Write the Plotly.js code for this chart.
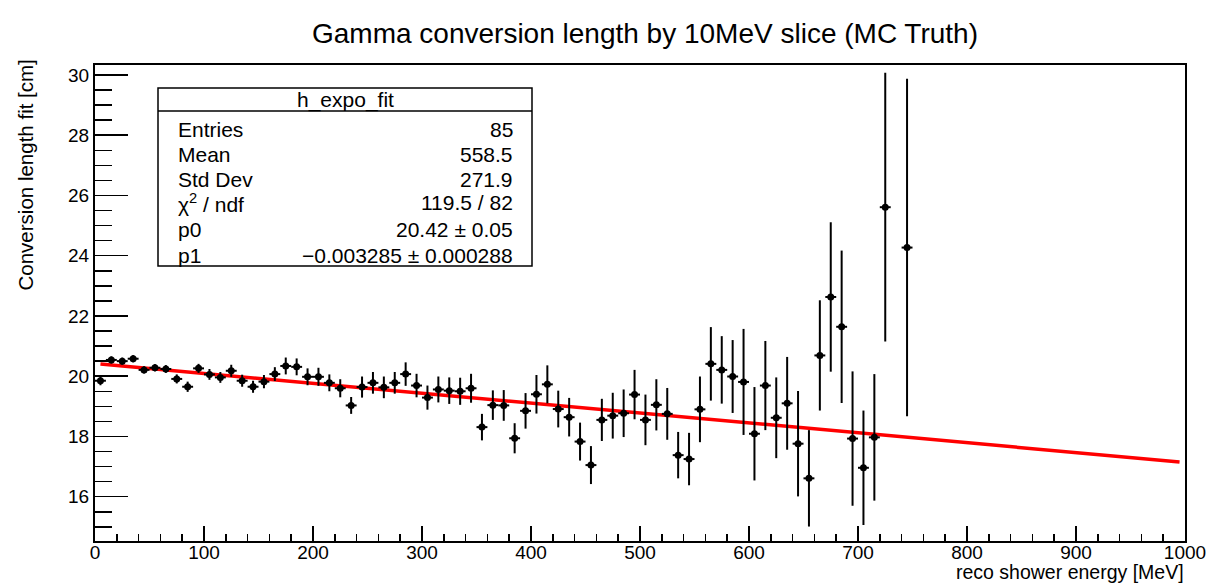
<!DOCTYPE html>
<html>
<head>
<meta charset="utf-8">
<script src="https://cdn.plot.ly/plotly-3.0.1.min.js"></script>
<style>
html,body{margin:0;padding:0;background:#fff;}
#chart{width:1209px;height:583px;}
</style>
</head>
<body>
<div id="chart"></div>
<script>
// reco shower energy bin centres [MeV]
const energy = [5,15,25,35,45,55,65,75,85,95,105,115,125,135,145,155,165,175,185,195,205,215,225,235,245,255,265,275,285,295,305,315,325,335,345,355,365,375,385,395,405,415,425,435,445,455,465,475,485,495,505,515,525,535,545,555,565,575,585,595,605,615,625,635,645,655,665,675,685,695,705,715,725,745];
// conversion length fit [cm]
const convLength = [19.85,20.54,20.50,20.58,20.21,20.28,20.24,19.91,19.65,20.26,20.06,19.96,20.18,19.85,19.65,19.82,20.07,20.34,20.31,19.98,19.98,19.78,19.60,19.03,19.64,19.78,19.63,19.78,20.07,19.69,19.29,19.56,19.52,19.50,19.60,18.31,19.04,19.03,17.94,18.85,19.40,19.73,18.91,18.64,17.83,17.05,18.55,18.69,18.77,19.39,18.55,19.05,18.75,17.38,17.25,18.90,20.41,20.21,19.99,19.81,18.09,19.69,18.62,19.10,17.76,16.61,20.69,22.63,21.64,17.93,16.96,17.97,25.61,24.27];
// uncertainty [cm]
const convError = [0.15,0.12,0.12,0.12,0.12,0.12,0.13,0.15,0.17,0.15,0.18,0.18,0.20,0.20,0.20,0.22,0.23,0.28,0.28,0.28,0.30,0.28,0.30,0.28,0.35,0.36,0.36,0.36,0.39,0.39,0.40,0.43,0.44,0.45,0.48,0.44,0.49,0.51,0.50,0.59,0.64,0.63,0.61,0.64,0.63,0.63,0.70,0.76,0.79,0.82,0.84,0.85,0.86,0.77,0.87,1.09,1.22,1.12,1.21,1.76,1.55,1.48,1.34,1.54,1.75,1.60,1.83,2.48,2.53,2.23,1.90,2.10,4.46,5.60];
const binHalfWidth = 5;

// fit parameters (pol1)
const p0 = 20.42;
const p1 = -0.003285;
const fitRange = [5, 995];

// stats box
const statLabels = ["Entries","Mean","Std Dev","\u03c7<sup>2</sup> / ndf","p0","p1"];
const statValues = ["85","558.5","271.9","119.5 / 82","20.42 \u00b1 0.05","\u22120.003285 \u00b1 0.000288"];
const statTitle = "h_expo_fit";

const FONT = "Liberation Sans, Arial, Helvetica, sans-serif";

const dataTrace = {
  x: energy, y: convLength, type: "scatter", mode: "markers",
  marker: {color: "#000", size: 7, symbol: "circle"},
  error_y: {type: "data", array: convError, visible: true, color: "#000", thickness: 2, width: 0},
  error_x: {type: "constant", value: binHalfWidth, visible: true, color: "#000", thickness: 2, width: 0},
  hoverinfo: "x+y", showlegend: false
};
const fitTrace = {
  x: fitRange, y: fitRange.map(e => p0 + p1 * e),
  type: "scatter", mode: "lines",
  line: {color: "#ff0000", width: 3.5}, showlegend: false
};

// plot geometry in px (for paper conversion of box)
const L = 95, R = 1185, T = 65, B = 541;
const px = v => (v - L) / (R - L);
const py = v => (B - v) / (B - T);

const rowY = [129, 154, 179, 203, 229, 255];
const SF = 21;
const annotations = [];
annotations.push({xref:"paper", yref:"paper", x:(px(158)+px(532))/2, y:py(100), text:statTitle, showarrow:false, xanchor:"center", yanchor:"middle", font:{family:FONT, size:SF, color:"#000"}});
statLabels.forEach((t,i) => {
  annotations.push({xref:"paper", yref:"paper", x:px(176), y:py(rowY[i]), text:t, showarrow:false, xanchor:"left", yanchor:"middle", font:{family:FONT, size:SF, color:"#000"}});
  annotations.push({xref:"paper", yref:"paper", x:px(515), y:py(rowY[i]), text:statValues[i], showarrow:false, xanchor:"right", yanchor:"middle", font:{family:FONT, size:SF, color:"#000"}});
});
annotations.push({xref:"paper", yref:"paper", x:1, y:py(572), text:"reco shower energy [MeV]", showarrow:false, xanchor:"right", yanchor:"middle", borderpad:0, font:{family:FONT, size:19.5, color:"#000"}});
annotations.push({xref:"paper", yref:"paper", x:px(25), y:py(58), text:"Conversion length fit [cm]", showarrow:false, textangle:-90, xanchor:"center", yanchor:"top", font:{family:FONT, size:20.5, color:"#000"}});

const shapes = [
  {type:"rect", xref:"paper", yref:"paper", x0:px(158), x1:px(532), y0:py(266), y1:py(88), line:{color:"#000", width:1.5}, fillcolor:"rgba(255,255,255,1)", layer:"above"},
  {type:"line", xref:"paper", yref:"paper", x0:px(158), x1:px(532), y0:py(111), y1:py(111), line:{color:"#000", width:1.5}, layer:"above"}
];

const layout = {
  width: 1209, height: 583,
  margin: {l: L, r: 1209 - R, t: T, b: 583 - B, pad: 0},
  paper_bgcolor: "#fff", plot_bgcolor: "#fff",
  font: {family: FONT, color: "#000"},
  title: {text: "Gamma conversion length by 10MeV slice (MC Truth)", font: {family: FONT, size: 28, color: "#000"}, x: 645/1209, xanchor: "center", y: 1 - 33/583, yanchor: "middle"},
  xaxis: {
    range: [0, 1000], showgrid: false, zeroline: false,
    showline: true, linecolor: "#000", linewidth: 2, mirror: true,
    ticks: "inside", ticklen: 15, tickwidth: 1.5, tickcolor: "#000",
    dtick: 100, tick0: 0, ticklabelstandoff: -7,
    tickfont: {family: FONT, size: 19, color: "#000"},
    minor: {ticks: "inside", ticklen: 7.5, tickwidth: 1.5, tickcolor: "#000", dtick: 20, showgrid: false}
  },
  yaxis: {
    range: [14.53, 30.33], showgrid: false, zeroline: false,
    showline: true, linecolor: "#000", linewidth: 2, mirror: true,
    ticks: "inside", ticklen: 33, tickwidth: 1.5, tickcolor: "#000",
    dtick: 2, tick0: 0,
    tickfont: {family: FONT, size: 19, color: "#000"},
    minor: {ticks: "inside", ticklen: 16.5, tickwidth: 1.5, tickcolor: "#000", dtick: 0.5, showgrid: false}
  },
  annotations: annotations,
  shapes: shapes
};

Plotly.newPlot("chart", [fitTrace, dataTrace], layout, {displayModeBar: false, staticPlot: true});
</script>
</body>
</html>
